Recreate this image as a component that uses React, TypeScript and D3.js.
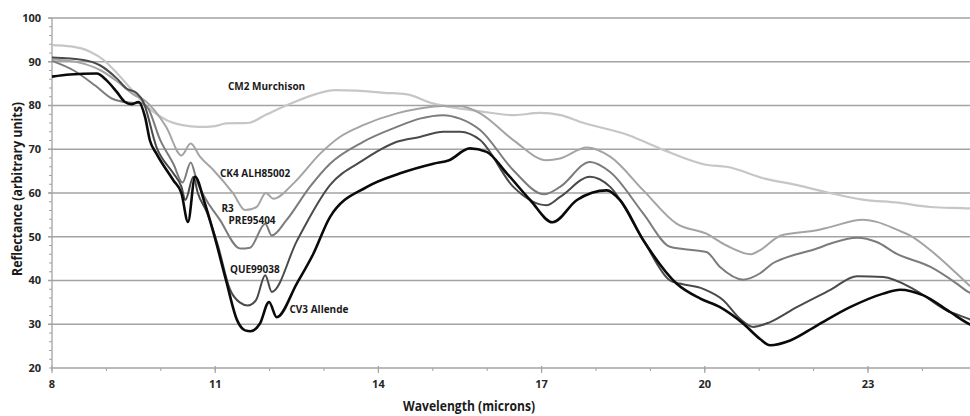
import React from "react";
import * as d3 from "d3";

// wavelength (microns) / reflectance pairs
const cm2Wave = [8.0, 8.35, 8.7, 8.95, 9.2, 9.5, 9.75, 10.1, 10.4, 10.7, 11.0, 11.2, 11.6, 11.95, 12.4, 12.85, 13.2, 13.6, 14.1, 14.5, 15.0, 15.4, 15.9, 16.5, 16.97, 17.35, 17.7, 18.6, 19.25, 20.05, 20.4, 21.1, 21.7, 22.3, 22.9, 23.55, 24.15, 24.85, 25.0];
const cm2Refl = [93.8, 93.5, 92.3, 90.4, 87.3, 83.1, 79.7, 76.7, 75.5, 75.1, 75.3, 75.9, 76.0, 78.0, 80.5, 82.6, 83.5, 83.4, 82.9, 82.6, 80.5, 79.5, 78.6, 77.8, 78.3, 77.8, 76.3, 73.2, 69.8, 66.4, 66.0, 63.3, 61.8, 60.0, 58.5, 57.8, 56.8, 56.5, 56.4];

const ck4Wave = [8.0, 8.5, 8.9, 9.2, 9.5, 9.7, 10.1, 10.38, 10.55, 10.72, 10.97, 11.33, 11.55, 11.76, 11.93, 12.07, 12.44, 12.93, 13.29, 13.72, 14.34, 14.76, 15.19, 15.5, 15.87, 16.48, 17.09, 17.34, 17.83, 18.26, 18.87, 19.48, 20.03, 20.4, 20.85, 21.01, 21.4, 22.06, 22.3, 22.9, 23.16, 23.55, 23.77, 24.15, 24.63, 24.87, 25.0];
const ck4Refl = [90.5, 89.8, 88.0, 85.5, 82.5, 81.2, 75.1, 68.6, 71.3, 68.3, 65.2, 59.9, 56.1, 56.8, 60.0, 58.7, 62.2, 69.0, 72.8, 75.5, 78.2, 79.3, 79.9, 79.9, 78.2, 72.1, 67.5, 67.9, 70.4, 68.3, 60.6, 53.0, 50.7, 48.0, 46.0, 46.9, 50.3, 51.5, 52.2, 53.9, 53.4, 51.5, 50.3, 46.9, 41.6, 38.8, 37.5];

const r3Wave = [8.0, 8.4, 8.8, 9.1, 9.4, 9.65, 9.75, 9.99, 10.23, 10.4, 10.55, 10.66, 11.09, 11.46, 11.64, 11.92, 12.04, 12.31, 12.74, 13.11, 13.72, 14.34, 14.76, 15.19, 15.5, 15.87, 16.48, 17.05, 17.34, 17.89, 18.26, 18.87, 19.36, 19.6, 20.03, 20.28, 20.71, 21.01, 21.26, 21.44, 22.06, 22.3, 22.8, 23.16, 23.53, 24.15, 24.63, 24.84, 25.0];
const r3Refl = [90.2, 88.0, 84.5, 81.6, 80.7, 80.5, 79.7, 72.1, 66.7, 62.4, 67.0, 62.9, 53.8, 47.3, 47.5, 53.0, 50.3, 53.8, 61.4, 66.7, 71.7, 75.1, 77.0, 77.8, 77.0, 74.4, 65.2, 59.7, 61.4, 67.1, 64.8, 55.3, 47.7, 47.2, 46.5, 43.1, 40.2, 41.6, 44.0, 45.0, 47.3, 48.4, 49.8, 48.8, 46.1, 43.1, 39.3, 37.4, 36.5];

const queWave = [8.0, 8.58, 8.88, 9.19, 9.37, 9.56, 9.68, 9.92, 10.23, 10.38, 10.45, 10.6, 10.68, 10.85, 11.05, 11.27, 11.45, 11.6, 11.75, 11.92, 12.04, 12.5, 13.11, 13.72, 14.34, 14.76, 15.19, 15.5, 15.87, 16.48, 17.09, 17.34, 17.89, 18.26, 18.87, 19.36, 19.54, 19.97, 20.34, 20.64, 20.89, 21.2, 21.69, 22.3, 22.8, 23.28, 23.83, 24.44, 24.84, 25.0];
const queRefl = [91.0, 90.4, 89.2, 86.2, 83.9, 82.8, 80.8, 70.5, 64.5, 61.4, 58.4, 63.7, 60.0, 55.5, 48.0, 38.0, 35.0, 34.3, 35.5, 41.2, 37.4, 49.0, 61.8, 67.5, 71.7, 72.8, 74.0, 74.0, 72.1, 61.4, 57.2, 59.1, 63.7, 61.4, 49.2, 40.0, 39.3, 38.1, 35.5, 31.3, 29.4, 30.5, 33.9, 37.8, 41.0, 40.8, 38.1, 33.2, 31.3, 30.5];

const cv3Wave = [8.0, 8.33, 8.82, 9.0, 9.19, 9.34, 9.46, 9.59, 9.71, 9.8, 9.92, 10.23, 10.38, 10.5, 10.63, 10.8, 11.0, 11.2, 11.4, 11.55, 11.65, 11.82, 11.99, 12.13, 12.5, 12.8, 13.11, 13.79, 14.4, 15.01, 15.3, 15.68, 15.99, 16.36, 16.79, 17.2, 17.65, 18.2, 18.44, 18.87, 19.48, 19.91, 20.28, 20.71, 21.01, 21.2, 21.57, 22.06, 22.67, 23.28, 23.59, 24.02, 24.51, 24.87, 25.0];
const cv3Refl = [86.6, 87.1, 87.3, 85.8, 83.1, 80.8, 80.3, 80.8, 77.4, 72.0, 69.0, 62.9, 59.9, 53.4, 63.7, 58.0, 49.5, 40.0, 31.0, 28.6, 28.4, 30.1, 35.1, 31.6, 39.3, 46.0, 54.5, 61.4, 64.5, 66.7, 67.5, 70.2, 69.4, 64.5, 58.4, 53.3, 58.4, 60.6, 58.4, 49.2, 39.3, 35.9, 33.9, 30.1, 26.7, 25.2, 26.3, 29.7, 33.9, 37.0, 37.9, 36.6, 32.8, 30.0, 29.3];

const yTicks = [20, 30, 40, 50, 60, 70, 80, 90, 100];
const xTicks = [8, 11, 14, 17, 20, 23];

const W = 970;
const H = 416;
const font = "'Open Sans', 'DejaVu Sans', sans-serif";

const App = () => {
  const x = d3.scaleLinear().domain([8, 25]).range([52, 52 + 17 * 54.4]);
  const y = d3.scaleLinear().domain([20, 100]).range([368, 18]);

  const series = [
    { wave: cm2Wave, refl: cm2Refl, color: "#c6c6c6", width: 2.2 },
    { wave: ck4Wave, refl: ck4Refl, color: "#a4a4a4", width: 2 },
    { wave: r3Wave, refl: r3Refl, color: "#7c7c7c", width: 2 },
    { wave: queWave, refl: queRefl, color: "#4a4a4a", width: 2 },
    { wave: cv3Wave, refl: cv3Refl, color: "#0a0a0a", width: 2.6 },
  ];

  const line = d3
    .line<[number, number]>()
    .x((d) => x(d[0]))
    .y((d) => y(d[1]))
    .curve(d3.curveMonotoneX);

  const minorX = d3.range(8, 26, 1);
  const minorY = d3.range(20, 101, 2);

  return (
    <svg width={W} height={H} style={{ position: "absolute", left: 0, top: 0, background: "#fff" }}>
      {/* horizontal gridlines */}
      {yTicks.slice(1).map((t) => (
        <line key={t} x1={48} x2={W} y1={y(t)} y2={y(t)} stroke="#a3a3a3" strokeWidth={1.3} />
      ))}

      {/* left axis */}
      <line x1={52} x2={52} y1={y(100)} y2={y(20)} stroke="#a3a3a3" strokeWidth={1.3} />
      {minorY.map((t) => (
        <line key={t} x1={49} x2={52} y1={y(t)} y2={y(t)} stroke="#a3a3a3" strokeWidth={1} />
      ))}
      {yTicks.map((t) => (
        <text key={t} x={41} y={y(t)} dy="0.35em" textAnchor="end" fontFamily={font} fontWeight={700} fontSize={11} fill="#262626">
          {t}
        </text>
      ))}

      {/* bottom axis */}
      <line x1={52} x2={W} y1={y(20)} y2={y(20)} stroke="#a3a3a3" strokeWidth={1.5} />
      {minorX.map((t) => (
        <line key={t} x1={x(t)} x2={x(t)} y1={y(20)} y2={y(20) + 3} stroke="#a3a3a3" strokeWidth={1} />
      ))}
      {xTicks.map((t) => (
        <g key={t}>
          <line x1={x(t)} x2={x(t)} y1={y(20) - 2} y2={y(20) + 5} stroke="#a3a3a3" strokeWidth={1.2} />
          <text x={x(t)} y={388} textAnchor="middle" fontFamily={font} fontWeight={700} fontSize={11} fill="#262626">
            {t}
          </text>
        </g>
      ))}

      {/* spectra */}
      {series.map((s, i) => (
        <path
          key={i}
          d={line(s.wave.map((w, j) => [w, s.refl[j]] as [number, number])) || ""}
          fill="none"
          stroke={s.color}
          strokeWidth={s.width}
          strokeLinejoin="round"
        />
      ))}

      {/* series labels */}
      <g fontFamily={font} fontWeight={700} fontSize={10} fill="#1a1a1a">
        <text x={228} y={89.5}>CM2 Murchison</text>
        <text x={220} y={176.5}>CK4 ALH85002</text>
        <text x={221.5} y={211.5}>R3</text>
        <text x={228.5} y={223.5}>PRE95404</text>
        <text x={230} y={272.5}>QUE99038</text>
        <text x={289.5} y={313}>CV3 Allende</text>
      </g>

      {/* axis titles */}
      <text
        x={469}
        y={411}
        textAnchor="middle"
        fontFamily={font}
        fontWeight={700}
        fontSize={13.5}
        fill="#1a1a1a"
        textLength={132}
        lengthAdjust="spacingAndGlyphs"
      >
        Wavelength (microns)
      </text>
      <text
        transform="translate(21.5,189) rotate(-90)"
        textAnchor="middle"
        fontFamily={font}
        fontWeight={700}
        fontSize={13.5}
        fill="#1a1a1a"
        textLength={174}
        lengthAdjust="spacingAndGlyphs"
      >
        Reflectance (arbitrary units)
      </text>
    </svg>
  );
};

export default App;
